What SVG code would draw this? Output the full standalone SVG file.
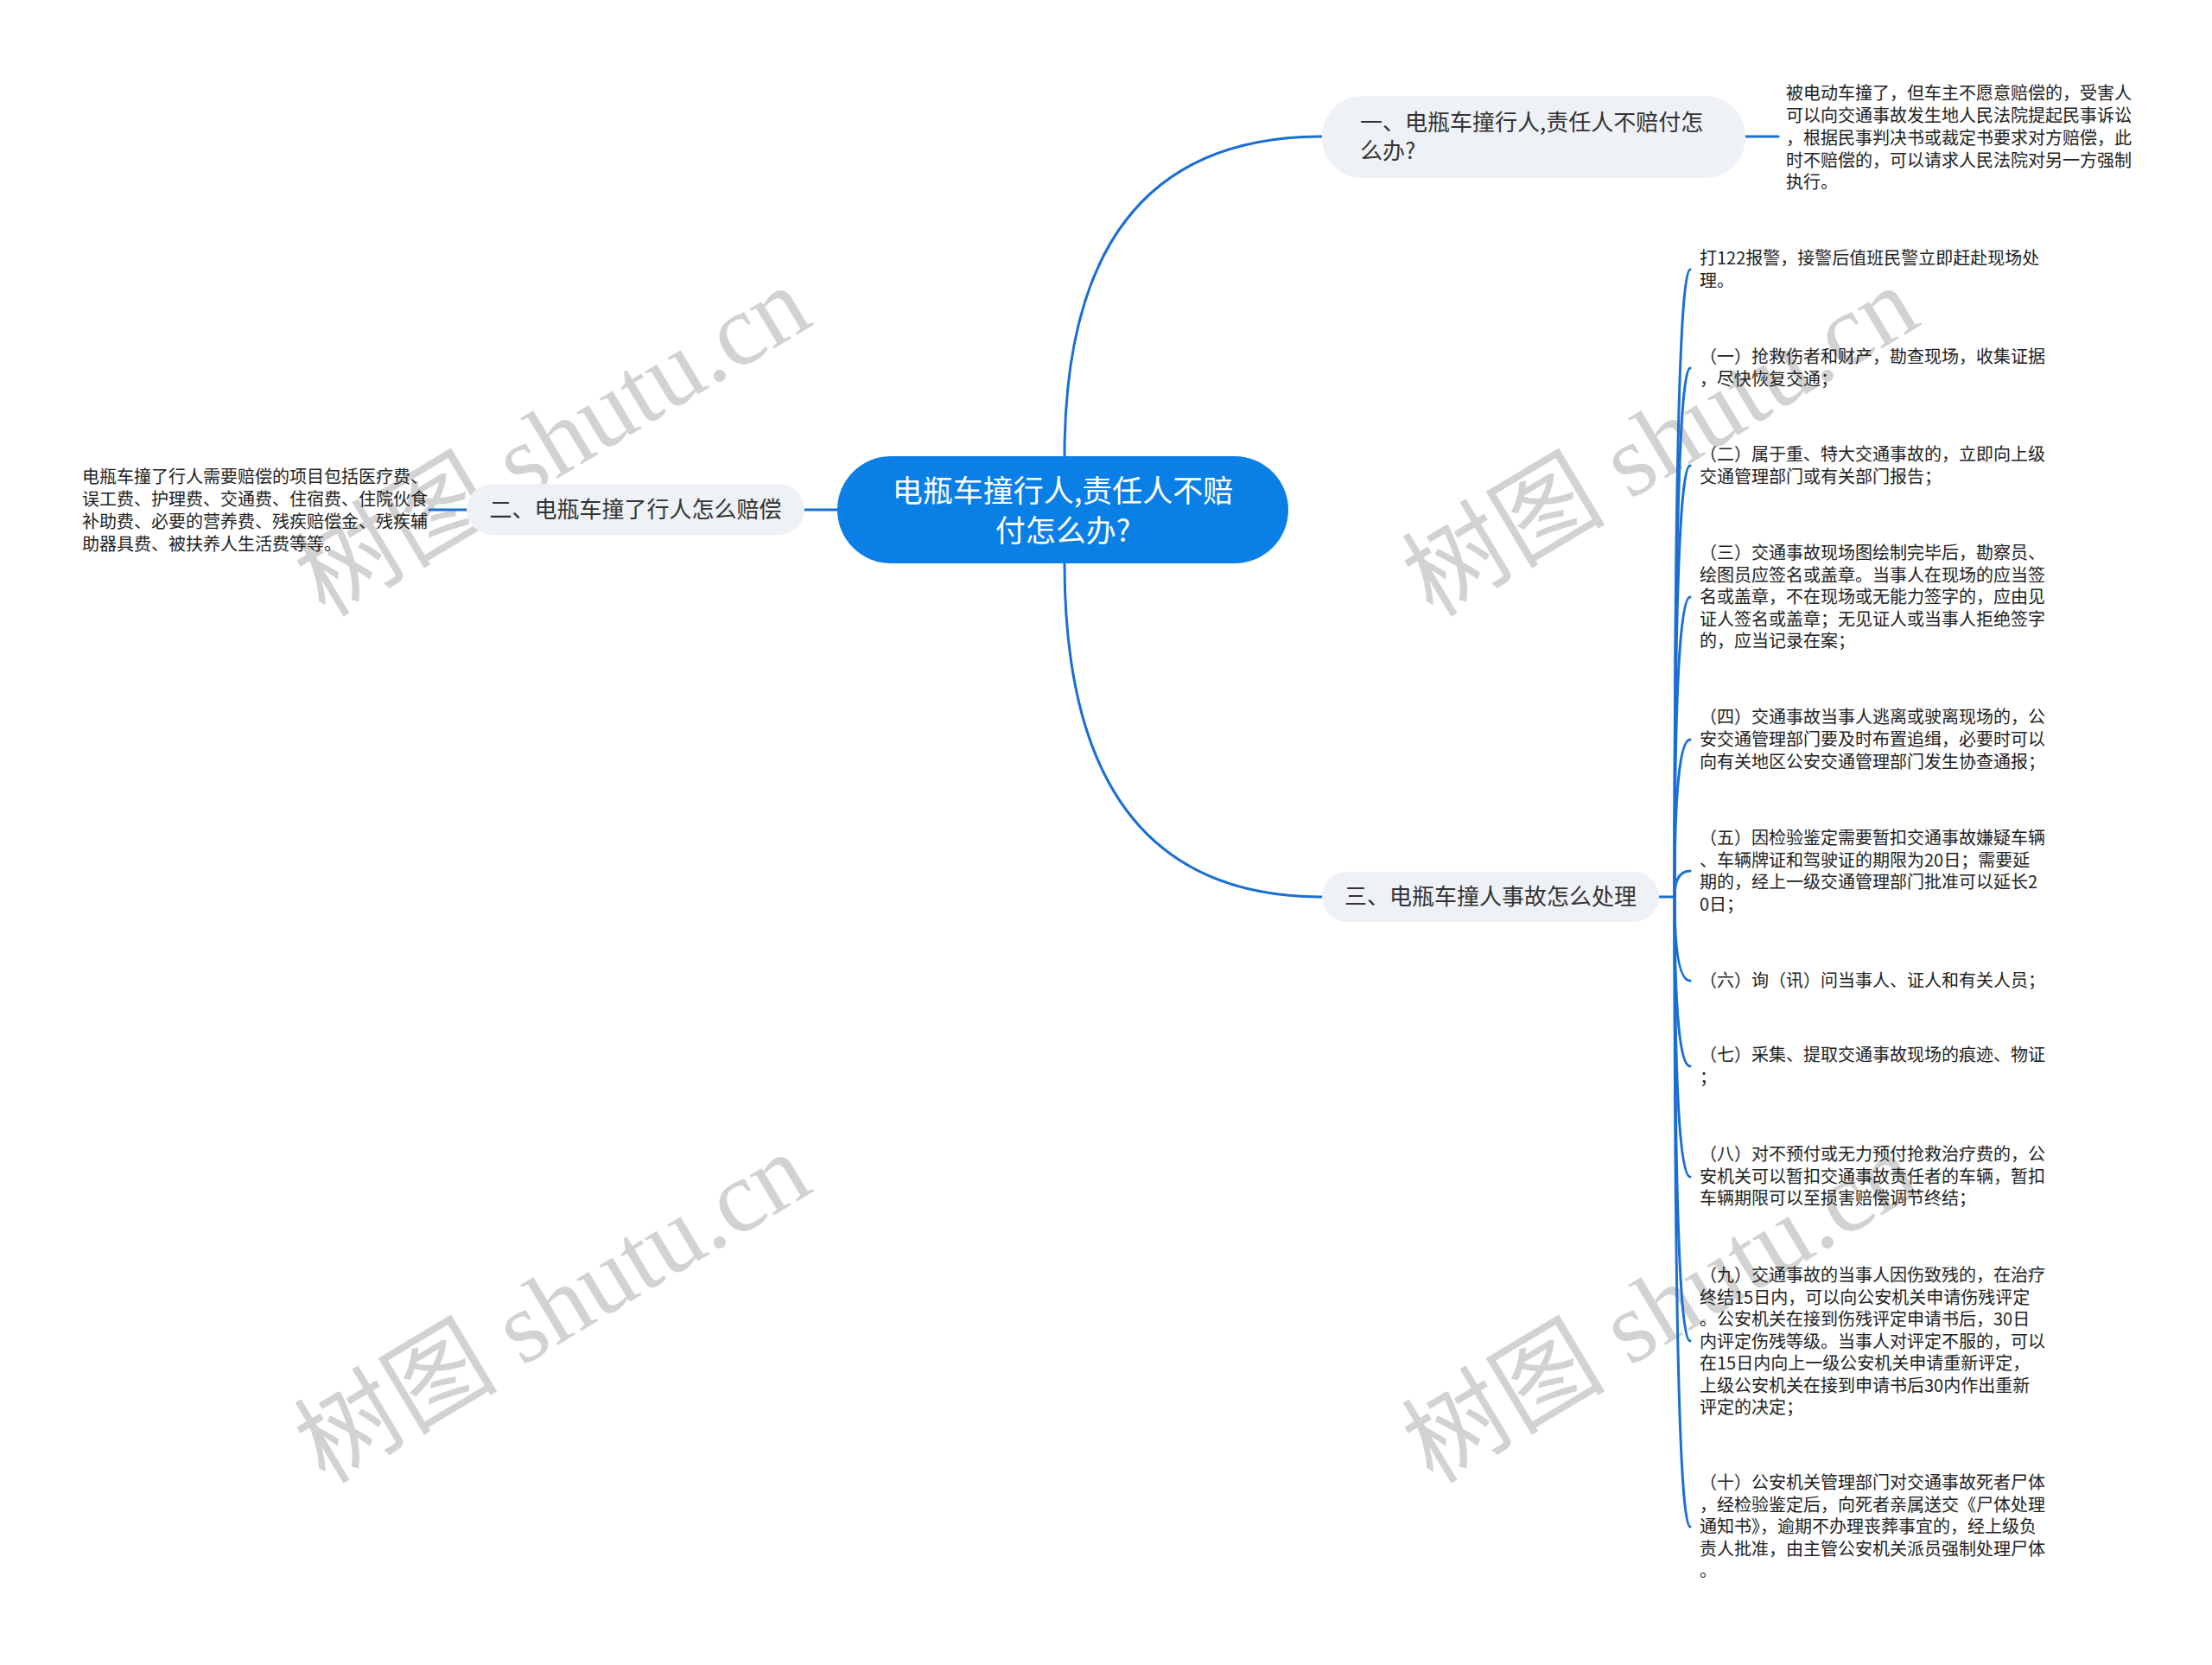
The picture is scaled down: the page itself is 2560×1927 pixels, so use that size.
<svg xmlns="http://www.w3.org/2000/svg" width="2560" height="1927" viewBox="0 0 2560 1927">
<style>
.wm{font-family:"Liberation Serif","Noto Sans CJK SC",serif;font-size:118px;fill:#d2d2d2}
.root{font-family:"Noto Sans CJK SC","Noto Sans",sans-serif;font-size:35px;fill:#ffffff}
.l1{font-family:"Noto Sans CJK SC","Noto Sans",sans-serif;font-size:26px;fill:#333333}
.d{font-family:"Noto Sans CJK SC","Noto Sans",sans-serif;font-size:20px;fill:#222222}
.pill{fill:#eef1f5}
.ln{fill:none;stroke:#1a6fd2;stroke-width:3;stroke-linecap:round}
</style>
<rect width="2560" height="1927" fill="#ffffff"/>
<g id="watermarks">
<text class="wm" x="660" y="545" text-anchor="middle" transform="rotate(-31 660 545)">树图 shutu.cn</text>
<text class="wm" x="1942" y="545" text-anchor="middle" transform="rotate(-31 1942 545)">树图 shutu.cn</text>
<text class="wm" x="660" y="1548" text-anchor="middle" transform="rotate(-31 660 1548)">树图 shutu.cn</text>
<text class="wm" x="1942" y="1548" text-anchor="middle" transform="rotate(-31 1942 1548)">树图 shutu.cn</text>
</g>
<g id="connectors">
<path class="ln" d="M1232 528 Q1232 158 1530 158"/>
<path class="ln" d="M1232 652 Q1232 1038 1530 1038"/>
<path class="ln" d="M969 590 L931 590"/>
<path class="ln" d="M540 590 L497 590"/>
<path class="ln" d="M2020 158 L2058 158"/>
<path class="ln" d="M1920 1038 L1938 1038"/>
<path class="ln" d="M1938 1038 Q1938 312 1956 312"/>
<path class="ln" d="M1938 1038 Q1938 426 1956 426"/>
<path class="ln" d="M1938 1038 Q1938 539 1956 539"/>
<path class="ln" d="M1938 1038 Q1938 691 1956 691"/>
<path class="ln" d="M1938 1038 Q1938 856 1956 856"/>
<path class="ln" d="M1938 1038 Q1938 1008 1956 1008"/>
<path class="ln" d="M1938 1038 Q1938 1135 1956 1135"/>
<path class="ln" d="M1938 1038 Q1938 1234 1956 1234"/>
<path class="ln" d="M1938 1038 Q1938 1362 1956 1362"/>
<path class="ln" d="M1938 1038 Q1938 1552 1956 1552"/>
<path class="ln" d="M1938 1038 Q1938 1767 1956 1767"/>
</g>
<g id="root">
<rect x="969" y="528" width="522" height="124" rx="62" fill="#0a7fe6"/>
<text class="root" x="1230" y="581" text-anchor="middle">电瓶车撞行人,责任人不赔</text>
<text class="root" x="1230" y="627" text-anchor="middle">付怎么办?</text>
</g>
<g id="node1">
<rect class="pill" x="1530" y="111" width="490" height="95" rx="47"/>
<text class="l1" x="1574" y="151">一、电瓶车撞行人,责任人不赔付怎</text>
<text class="l1" x="1574" y="184">么办?</text>
</g>
<g id="node1-detail">
<text class="d" x="2067" y="115">被电动车撞了，但车主不愿意赔偿的，受害人</text>
<text class="d" x="2067" y="141">可以向交通事故发生地人民法院提起民事诉讼</text>
<text class="d" x="2067" y="167">，根据民事判决书或裁定书要求对方赔偿，此</text>
<text class="d" x="2067" y="193">时不赔偿的，可以请求人民法院对另一方强制</text>
<text class="d" x="2067" y="218">执行。</text>
</g>
<g id="node2">
<rect class="pill" x="540" y="560" width="391" height="59" rx="29.5"/>
<text class="l1" x="735.5" y="599" text-anchor="middle">二、电瓶车撞了行人怎么赔偿</text>
</g>
<g id="node2-detail">
<text class="d" x="95" y="559">电瓶车撞了行人需要赔偿的项目包括医疗费、</text>
<text class="d" x="95" y="585">误工费、护理费、交通费、住宿费、住院伙食</text>
<text class="d" x="95" y="611">补助费、必要的营养费、残疾赔偿金、残疾辅</text>
<text class="d" x="95" y="637">助器具费、被扶养人生活费等等。</text>
</g>
<g id="node3">
<rect class="pill" x="1530" y="1009" width="390" height="58" rx="29"/>
<text class="l1" x="1725" y="1047" text-anchor="middle">三、电瓶车撞人事故怎么处理</text>
</g>
<g id="c0">
<text class="d" x="1967" y="306">打122报警，接警后值班民警立即赶赴现场处</text>
<text class="d" x="1967" y="332">理。</text>
</g>
<g id="c1">
<text class="d" x="1967" y="420">（一）抢救伤者和财产，勘查现场，收集证据</text>
<text class="d" x="1967" y="446">，尽快恢复交通；</text>
</g>
<g id="c2">
<text class="d" x="1967" y="533">（二）属于重、特大交通事故的，立即向上级</text>
<text class="d" x="1967" y="559">交通管理部门或有关部门报告；</text>
</g>
<g id="c3">
<text class="d" x="1967" y="647">（三）交通事故现场图绘制完毕后，勘察员、</text>
<text class="d" x="1967" y="672.5">绘图员应签名或盖章。当事人在现场的应当签</text>
<text class="d" x="1967" y="698">名或盖章，不在现场或无能力签字的，应由见</text>
<text class="d" x="1967" y="723.5">证人签名或盖章；无见证人或当事人拒绝签字</text>
<text class="d" x="1967" y="749">的，应当记录在案；</text>
</g>
<g id="c4">
<text class="d" x="1967" y="837">（四）交通事故当事人逃离或驶离现场的，公</text>
<text class="d" x="1967" y="863">安交通管理部门要及时布置追缉，必要时可以</text>
<text class="d" x="1967" y="889">向有关地区公安交通管理部门发生协查通报；</text>
</g>
<g id="c5">
<text class="d" x="1967" y="977">（五）因检验鉴定需要暂扣交通事故嫌疑车辆</text>
<text class="d" x="1967" y="1003">、车辆牌证和驾驶证的期限为20日；需要延</text>
<text class="d" x="1967" y="1028">期的，经上一级交通管理部门批准可以延长2</text>
<text class="d" x="1967" y="1054">0日；</text>
</g>
<g id="c6">
<text class="d" x="1967" y="1142">（六）询（讯）问当事人、证人和有关人员；</text>
</g>
<g id="c7">
<text class="d" x="1967" y="1228">（七）采集、提取交通事故现场的痕迹、物证</text>
<text class="d" x="1967" y="1254">；</text>
</g>
<g id="c8">
<text class="d" x="1967" y="1343">（八）对不预付或无力预付抢救治疗费的，公</text>
<text class="d" x="1967" y="1369">安机关可以暂扣交通事故责任者的车辆，暂扣</text>
<text class="d" x="1967" y="1394">车辆期限可以至损害赔偿调节终结；</text>
</g>
<g id="c9">
<text class="d" x="1967" y="1483">（九）交通事故的当事人因伤致残的，在治疗</text>
<text class="d" x="1967" y="1508.5">终结15日内，可以向公安机关申请伤残评定</text>
<text class="d" x="1967" y="1534">。公安机关在接到伤残评定申请书后，30日</text>
<text class="d" x="1967" y="1559.5">内评定伤残等级。当事人对评定不服的，可以</text>
<text class="d" x="1967" y="1585">在15日内向上一级公安机关申请重新评定，</text>
<text class="d" x="1967" y="1610.5">上级公安机关在接到申请书后30内作出重新</text>
<text class="d" x="1967" y="1636">评定的决定；</text>
</g>
<g id="c10">
<text class="d" x="1967" y="1723">（十）公安机关管理部门对交通事故死者尸体</text>
<text class="d" x="1967" y="1749">，经检验鉴定后，向死者亲属送交《尸体处理</text>
<text class="d" x="1967" y="1774">通知书》，逾期不办理丧葬事宜的，经上级负</text>
<text class="d" x="1967" y="1800">责人批准，由主管公安机关派员强制处理尸体</text>
<text class="d" x="1967" y="1825">。</text>
</g>
</svg>
